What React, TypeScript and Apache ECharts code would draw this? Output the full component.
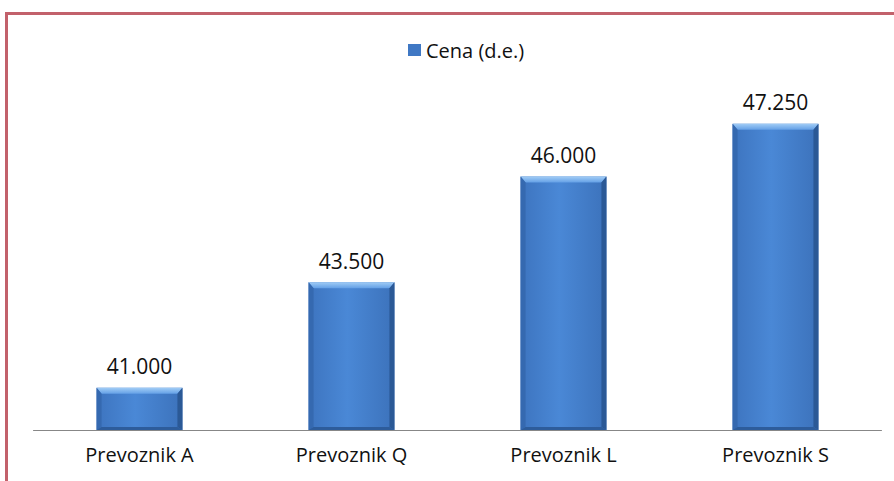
import React, { useEffect, useRef } from "react";
import * as echarts from "echarts";

const categories = ["Prevoznik A", "Prevoznik Q", "Prevoznik L", "Prevoznik S"];
const prices = [41000, 43500, 46000, 47250];
const seriesName = "Cena (d.e.)";

const FONT = "'Open Sans', 'Noto Sans', sans-serif";

function formatThousands(v: number): string {
  const s = String(Math.round(v));
  return s.replace(/\B(?=(\d{3})+(?!\d))/g, ".");
}

export default function App() {
  const ref = useRef<HTMLDivElement>(null);

  useEffect(() => {
    if (!ref.current) return;
    const chart = echarts.init(ref.current, null, { renderer: "svg" });

    // Bevelled bar: flat face plus four slanted edge strips, value above.
    const renderBar = (params: any, api: any) => {
      const idx = api.value(0);
      const val = api.value(1);
      const top = api.coord([idx, val]);
      const base = api.coord([idx, 40000]);
      const band = api.size([1, 0])[0];
      const w = band * 0.405;
      const x0 = top[0] - w / 2;
      const x1 = top[0] + w / 2;
      const y0 = top[1];
      const y1 = base[1];
      const b = 5;
      return {
        type: "group",
        children: [
          {
            type: "rect",
            shape: { x: x0, y: y0, width: x1 - x0, height: y1 - y0 },
            style: {
              fill: new echarts.graphic.LinearGradient(0, 0, 1, 0, [
                { offset: 0, color: "#3d74bf" },
                { offset: 0.45, color: "#4a88d6" },
                { offset: 1, color: "#3c72bb" },
              ]),
            },
          },
          {
            type: "polygon",
            shape: { points: [[x0, y0], [x1, y0], [x1 - b, y0 + b + 1], [x0 + b, y0 + b + 1]] },
            style: {
              fill: new echarts.graphic.LinearGradient(0, 0, 0, 1, [
                { offset: 0, color: "#a2cdf6" },
                { offset: 1, color: "#64a0e6" },
              ]),
            },
          },
          {
            type: "polygon",
            shape: { points: [[x0, y0], [x0 + b, y0 + b + 1], [x0 + b, y1 - 3], [x0, y1]] },
            style: { fill: "#3569b0" },
          },
          {
            type: "polygon",
            shape: { points: [[x1, y0], [x1, y1], [x1 - b, y1 - 3], [x1 - b, y0 + b + 1]] },
            style: { fill: "#2b5996" },
          },
          {
            type: "polygon",
            shape: { points: [[x0, y1], [x0 + b, y1 - 3], [x1 - b, y1 - 3], [x1, y1]] },
            style: { fill: "#2d5c9b" },
          },
          {
            type: "text",
            x: top[0],
            y: y0 - 11,
            style: {
              text: formatThousands(val),
              align: "center",
              verticalAlign: "bottom",
              fill: "#111111",
              font: `21px ${FONT}`,
            },
          },
        ],
      };
    };

    chart.setOption({
      animation: false,
      backgroundColor: "#ffffff",
      graphic: [
        {
          type: "rect",
          silent: true,
          z: -1,
          shape: { x: 6.5, y: 13.5, width: 920, height: 520 },
          style: { fill: "none", stroke: "#c2616b", lineWidth: 3 },
        },
      ],
      legend: {
        top: 35,
        left: 403,
        data: [seriesName],
        icon: "rect",
        itemWidth: 13,
        itemHeight: 12,
        itemGap: 6,
        textStyle: { fontFamily: FONT, fontSize: 20, color: "#111111" },
      },
      grid: { left: 33.5, right: 12.5, top: 92, bottom: 51 },
      xAxis: {
        type: "category",
        data: categories,
        axisLine: { show: true, lineStyle: { color: "#878787", width: 1 } },
        axisTick: { show: false },
        axisLabel: {
          margin: 14,
          color: "#111111",
          fontFamily: FONT,
          fontSize: 20,
        },
      },
      yAxis: {
        type: "value",
        min: 40000,
        max: 48000,
        interval: 1000,
        show: false,
        splitLine: { show: false },
      },
      series: [
        {
          name: seriesName,
          type: "custom",
          renderItem: renderBar,
          itemStyle: { color: "#3f78c4" },
          encode: { x: 0, y: 1 },
          data: prices.map((p, i) => [i, p]),
        },
      ],
    });

    return () => chart.dispose();
  }, []);

  return (
    <div
      ref={ref}
      style={{ position: "fixed", left: 0, top: 0, width: 894, height: 481 }}
    />
  );
}
